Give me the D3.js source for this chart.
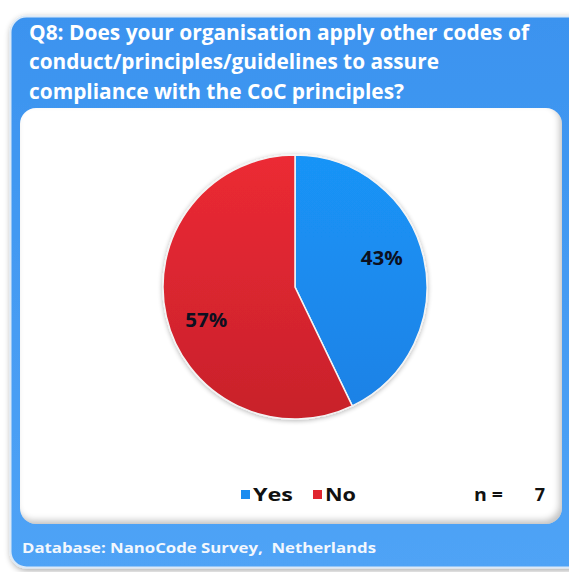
<!DOCTYPE html>
<html>
<head>
<meta charset="utf-8">
<script src="https://cdn.jsdelivr.net/npm/d3@7"></script>
<style>
  html, body { margin: 0; padding: 0; background: #ffffff; }
  svg { display: block; }
  text { white-space: pre; }
</style>
</head>
<body>
<svg id="chart" width="569" height="572"></svg>
<script>
// Survey answers (respondent counts) and display labels
const categories = ["Yes", "No"];
const counts = [3, 4];
const percentLabels = ["43%", "57%"];
const sampleSize = 7;
const titleLines = [
  "Q8: Does your organisation apply other codes of",
  "conduct/principles/guidelines to assure",
  "compliance with the CoC principles?"
];
const footerText = "Database: NanoCode Survey,  Netherlands";

const FONT = "'Open Sans', Lato, sans-serif";
const svg = d3.select("#chart");
const defs = svg.append("defs");

// Gradients and shadows
const outerGrad = defs.append("linearGradient").attr("id", "outerGrad")
  .attr("x1", 0).attr("y1", 0).attr("x2", 0).attr("y2", 1);
outerGrad.append("stop").attr("offset", "0%").attr("stop-color", "#3b93ef");
outerGrad.append("stop").attr("offset", "100%").attr("stop-color", "#4fa3f6");

const blueGrad = defs.append("linearGradient").attr("id", "sliceYes")
  .attr("x1", 0).attr("y1", 0).attr("x2", 0).attr("y2", 1);
blueGrad.append("stop").attr("offset", "0%").attr("stop-color", "#1994f7");
blueGrad.append("stop").attr("offset", "100%").attr("stop-color", "#1c82e6");

const redGrad = defs.append("linearGradient").attr("id", "sliceNo")
  .attr("x1", 0).attr("y1", 0).attr("x2", 0).attr("y2", 1);
redGrad.append("stop").attr("offset", "0%").attr("stop-color", "#ec2a34");
redGrad.append("stop").attr("offset", "100%").attr("stop-color", "#c8212b");

const panelShadow = defs.append("filter").attr("id", "panelShadow")
  .attr("x", "-10%").attr("y", "-10%").attr("width", "120%").attr("height", "120%");
panelShadow.append("feGaussianBlur").attr("in", "SourceAlpha").attr("stdDeviation", 3);
panelShadow.append("feOffset").attr("dx", 1).attr("dy", 2).attr("result", "b");
panelShadow.append("feComponentTransfer").append("feFuncA").attr("type", "linear").attr("slope", 0.35);
const m1 = panelShadow.append("feMerge");
m1.append("feMergeNode");
m1.append("feMergeNode").attr("in", "SourceGraphic");

const innerShadow = defs.append("filter").attr("id", "innerShadow");
innerShadow.append("feGaussianBlur").attr("in", "SourceAlpha").attr("stdDeviation", 3).attr("result", "blur");
innerShadow.append("feOffset").attr("dx", -3).attr("dy", -4).attr("result", "off");
innerShadow.append("feComposite").attr("in", "SourceAlpha").attr("in2", "off")
  .attr("operator", "out").attr("result", "inv");
innerShadow.append("feFlood").attr("flood-color", "#000").attr("flood-opacity", 0.45);
innerShadow.append("feComposite").attr("in2", "inv").attr("operator", "in").attr("result", "sh");
const m2 = innerShadow.append("feMerge");
m2.append("feMergeNode").attr("in", "SourceGraphic");
m2.append("feMergeNode").attr("in", "sh");

const pieShadow = defs.append("filter").attr("id", "pieShadow")
  .attr("x", "-10%").attr("y", "-10%").attr("width", "120%").attr("height", "120%");
pieShadow.append("feGaussianBlur").attr("in", "SourceAlpha").attr("stdDeviation", 2.5);
pieShadow.append("feOffset").attr("dx", 0).attr("dy", 1);
pieShadow.append("feComponentTransfer").append("feFuncA").attr("type", "linear").attr("slope", 0.3);
const m3 = pieShadow.append("feMerge");
m3.append("feMergeNode");
m3.append("feMergeNode").attr("in", "SourceGraphic");

// Text helper: fixed width run so every label spans its slot
function label(parent, x, y, str, size, width, fill, anchor) {
  const t = parent.append("text")
    .attr("x", x).attr("y", y)
    .attr("fill", fill)
    .attr("font-family", FONT)
    .attr("font-weight", 700)
    .attr("font-size", size)
    .attr("text-anchor", anchor || "start")
    .text(str);
  if (width) t.attr("textLength", width).attr("lengthAdjust", "spacingAndGlyphs");
  return t;
}

// Outer blue card
svg.append("rect")
  .attr("x", 10.5).attr("y", 16.5).attr("width", 575).attr("height", 551)
  .attr("rx", 16).attr("ry", 16)
  .attr("fill", "url(#outerGrad)")
  .attr("stroke", "#dbe9f7").attr("stroke-width", 2)
  .attr("filter", "url(#panelShadow)");

// Title
const titleWidths = [500, 410, 375];
titleLines.forEach((line, i) => {
  label(svg, 29, 39.5 + i * 29.5, line, 20.5, titleWidths[i], "#ffffff");
});

// Inner white plot panel
svg.append("rect")
  .attr("x", 20).attr("y", 108).attr("width", 542).attr("height", 416)
  .attr("rx", 16).attr("ry", 16)
  .attr("fill", "#ffffff")
  .attr("filter", "url(#innerShadow)");

// Pie chart
const cx = 295, cy = 287, radius = 132;
const color = d3.scaleOrdinal().domain(categories).range(["url(#sliceYes)", "url(#sliceNo)"]);
const swatch = d3.scaleOrdinal().domain(categories).range(["#1a8cf0", "#e0262f"]);

const pie = d3.pie().sort(null).value(d => d.count);
const data = categories.map((c, i) => ({ category: c, count: counts[i], label: percentLabels[i] }));
const arcs = pie(data);
const arc = d3.arc().innerRadius(0).outerRadius(radius);
// labels sit a little counter-clockwise of each slice middle
const labelArc = d3.arc().innerRadius(93).outerRadius(93);
const labelShift = -0.11;

const pieG = svg.append("g").attr("transform", `translate(${cx},${cy})`);
pieG.append("g").attr("filter", "url(#pieShadow)")
  .selectAll("path").data(arcs).join("path")
  .attr("d", arc)
  .attr("fill", d => color(d.data.category))
  .attr("stroke", "#f4f4f4").attr("stroke-width", 1.5);

arcs.forEach(d => {
  const c = labelArc.centroid({ startAngle: d.startAngle + labelShift, endAngle: d.endAngle + labelShift });
  label(pieG, c[0] - 1, c[1] + 9, d.data.label, 19, 42, "#0c1020", "middle");
});

// Legend
const legend = svg.append("g").attr("transform", "translate(241,501)");
const legendX = d3.scaleOrdinal().domain(categories).range([0, 72]);
const legendW = d3.scaleOrdinal().domain(categories).range([40, 31]);
categories.forEach(c => {
  const g = legend.append("g").attr("transform", `translate(${legendX(c)},0)`);
  g.append("rect")
    .attr("x", 0).attr("y", -11).attr("width", 9).attr("height", 9)
    .attr("fill", swatch(c));
  label(g, 12, 0, c, 18, legendW(c), "#111");
});

// Sample size
label(svg, 474, 501, "n =", 18, 29, "#111");
label(svg, 545, 501, String(sampleSize), 18, null, "#111", "end");

// Footer
label(svg, 22, 553, footerText, 15, 354, "#f2f7fd");
</script>
</body>
</html>
